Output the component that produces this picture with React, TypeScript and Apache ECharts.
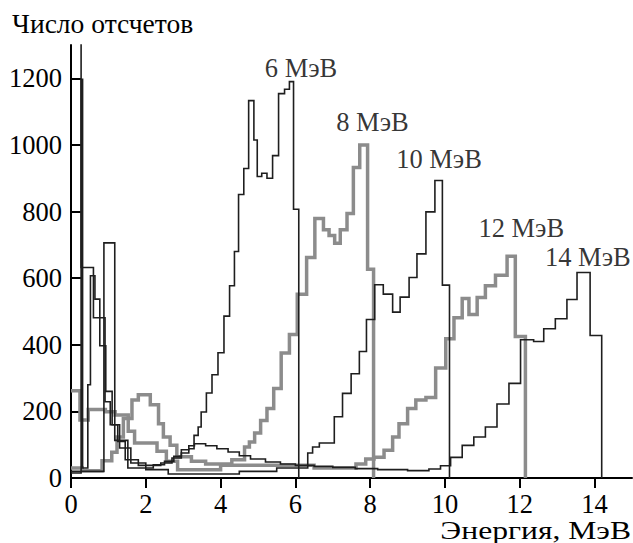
import React, { useEffect, useRef } from "react";
import * as echarts from "echarts";

// Tick labels
const xTicks = [0, 2, 4, 6, 8, 10, 12, 14];
const yTicks = [0, 200, 400, 600, 800, 1000, 1200];

// Histogram bin edges (MeV) and counts for each beam energy
const e6 = [0.2, 0.27, 0.6, 0.91, 1.05, 1.25, 1.45, 1.8, 2.4, 2.7, 2.95, 3.15, 3.29, 3.4, 3.48, 3.62, 3.77, 3.93, 4.09, 4.24, 4.37, 4.48, 4.62, 4.75, 4.89, 4.98, 5.1, 5.24, 5.39, 5.55, 5.71, 5.84, 5.95, 6.09];
const c6 = [1500, 632, 481, 229, 160, 110, 55, 38, 45, 60, 75, 88, 128, 153, 198, 255, 310, 376, 486, 577, 680, 851, 929, 1133, 1015, 905, 915, 900, 968, 1154, 1167, 1190, 807];

const e8 = [0, 0.3, 0.83, 1.09, 1.23, 1.4, 1.63, 1.8, 2.12, 2.34, 2.47, 2.65, 2.83, 3.22, 3.6, 4.3, 4.64, 4.77, 4.91, 5.07, 5.24, 5.42, 5.62, 5.84, 6.05, 6.3, 6.52, 6.75, 6.9, 7.05, 7.2, 7.38, 7.55, 7.72, 7.93, 8.09];
const c8 = [30, 22, 52, 77, 123, 179, 234, 250, 220, 163, 123, 98, 64, 50, 42, 55, 93, 108, 135, 173, 209, 269, 375, 431, 552, 662, 779, 745, 728, 705, 745, 794, 932, 1000, 627];

const e10 = [0, 0.27, 0.31, 0.45, 0.52, 0.64, 0.77, 0.93, 1.1, 1.3, 1.6, 2.0, 2.6, 4.5, 5.5, 6.33, 6.46, 6.64, 7.04, 7.26, 7.49, 7.71, 7.9, 8.12, 8.35, 8.6, 8.8, 9.04, 9.25, 9.49, 9.73, 9.93, 10.12];
const c10 = [15, 1197, 30, 280, 607, 537, 397, 260, 160, 90, 45, 25, 12, 20, 30, 75, 93, 105, 184, 254, 313, 380, 476, 580, 552, 498, 543, 602, 673, 799, 893, 579];

const e12 = [0, 0.24, 0.46, 0.92, 1.18, 1.53, 1.7, 2.3, 2.55, 2.85, 4.0, 6.5, 7.62, 7.88, 8.1, 8.37, 8.6, 8.77, 9.0, 9.22, 9.49, 9.75, 10.02, 10.24, 10.46, 10.64, 10.86, 11.08, 11.35, 11.66, 11.88, 12.15];
const c12 = [262, 174, 206, 199, 189, 140, 105, 80, 50, 25, 38, 30, 42, 57, 62, 83, 123, 163, 209, 234, 242, 330, 418, 481, 539, 491, 542, 577, 609, 666, 425];

const e14 = [0, 0.88, 1.17, 1.52, 2.2, 2.5, 2.75, 2.95, 3.15, 3.3, 3.6, 3.9, 4.2, 4.5, 4.8, 5.2, 5.6, 6.0, 6.5, 7.0, 7.6, 8.2, 9.0, 9.57, 9.88, 10.15, 10.46, 10.77, 11.08, 11.39, 11.71, 12.02, 12.37, 12.64, 12.95, 13.26, 13.53, 13.88, 14.19];
const c14 = [20, 706, 113, 30, 40, 50, 65, 85, 97, 103, 97, 88, 78, 67, 57, 48, 42, 38, 35, 32, 28, 25, 22, 27, 37, 62, 98, 123, 153, 222, 284, 415, 410, 448, 478, 536, 617, 428];

// Peak annotations (data units)
const labelNames = ["6 МэВ", "8 МэВ", "10 МэВ", "12 МэВ", "14 МэВ"];
const labelE = [6.15, 8.06, 9.84, 12.04, 13.82];
const labelV = [1230, 1070, 958, 752, 664];

const FONT = "'Liberation Serif', 'DejaVu Serif', serif";
const FS = 26.5;
const BLACK = "#1e1e1e";
const GREY = "#8c8c8c";

function hist(edges: number[], counts: number[]) {
  const pts: number[][] = counts.map((v, i) => [edges[i], v]);
  pts.push([edges[edges.length - 1], 0]);
  return pts;
}

function lineSeries(name: string, edges: number[], counts: number[], color: string, width: number, z: number) {
  return {
    name,
    type: "line",
    step: "end",
    symbol: "none",
    data: hist(edges, counts),
    lineStyle: { color, width, join: "miter" },
    z,
    silent: true,
  };
}

export default function App() {
  const ref = useRef<HTMLDivElement>(null);
  useEffect(() => {
    const chart = echarts.init(ref.current!, null, { renderer: "svg" });
    const option: any = {
      animation: false,
      grid: { left: 71, right: 1, top: 45, bottom: 65, containLabel: false },
      xAxis: {
        type: "value",
        min: 0,
        max: 15,
        interval: 2,
        axisLine: { show: true, onZero: false, lineStyle: { color: "#000", width: 2 } },
        axisTick: { show: true, inside: false, length: 10, lineStyle: { color: "#000", width: 2 }, customValues: xTicks },
        axisLabel: {
          customValues: xTicks,
          formatter: (v: number) => String(v),
          fontFamily: FONT,
          fontSize: FS,
          lineHeight: 20,
          color: "#000",
          margin: 16,
        },
        splitLine: { show: false },
      },
      yAxis: {
        type: "value",
        min: 0,
        max: 1300,
        interval: 200,
        axisLine: { show: true, onZero: false, lineStyle: { color: "#000", width: 2 } },
        axisTick: { show: true, inside: true, length: 10, lineStyle: { color: "#000", width: 2 }, customValues: yTicks },
        axisLabel: { customValues: yTicks, formatter: (v: number) => String(v), fontFamily: FONT, fontSize: FS, color: "#000", margin: 9 },
        splitLine: { show: false },
      },
      series: [
        lineSeries("8 МэВ", e8, c8, GREY, 3.5, 2),
        lineSeries("12 МэВ", e12, c12, GREY, 3.5, 2),
        lineSeries("6 МэВ", e6, c6, BLACK, 1.6, 3),
        lineSeries("10 МэВ", e10, c10, BLACK, 1.6, 3),
        lineSeries("14 МэВ", e14, c14, BLACK, 1.6, 3),
        {
          type: "scatter",
          symbolSize: 0,
          silent: true,
          clip: false,
          data: labelE.map((e, i) => [e, labelV[i], labelNames[i]]),
          label: {
            show: true,
            position: "inside",
            formatter: (p: any) => p.data[2],
            fontFamily: FONT,
            fontSize: FS,
            color: "#000",
          },
          z: 5,
        },
      ],
      graphic: [
        {
          type: "text",
          x: 12,
          y: 24,
          scaleX: 1.04,
          style: { text: "Число отсчетов", font: `${FS}px ${FONT}`, fill: "#000", textAlign: "left", textVerticalAlign: "middle" },
        },
        {
          type: "text",
          x: 631,
          y: 530,
          scaleX: 1.24,
          style: {
            text: "Энергия, МэВ",
            font: `25.5px ${FONT}`,
            lineHeight: 20,
            fill: "#000",
            textAlign: "right",
            textVerticalAlign: "middle",
          },
        },
      ],
    };
    chart.setOption(option);
    return () => chart.dispose();
  }, []);
  return <div ref={ref} style={{ position: "absolute", left: 0, top: 0, width: 633, height: 543, background: "#fff" }} />;
}
